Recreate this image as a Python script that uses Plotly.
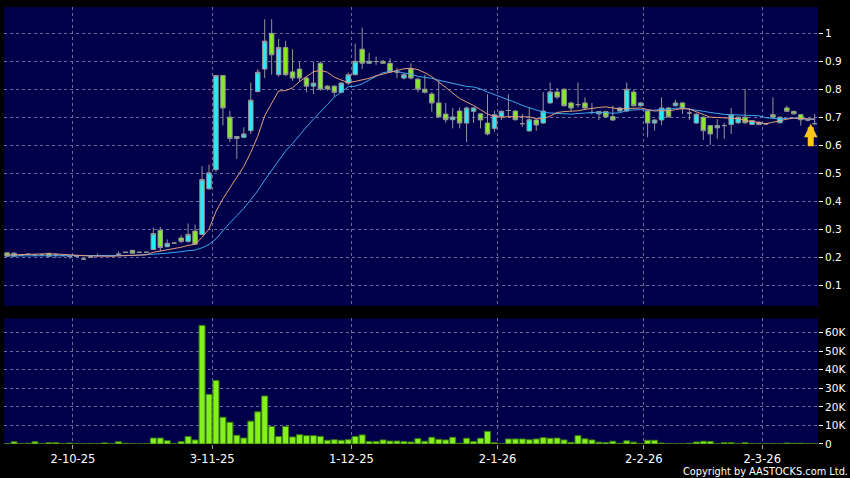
import pandas as pd
import plotly.graph_objects as go

# ── trading calendar (HK) ───────────────────────────────────────────────
HOLIDAYS = ['2025-10-01', '2025-10-07', '2025-10-29', '2025-12-25', '2025-12-26',
            '2026-01-01', '2026-02-17', '2026-02-18', '2026-02-19']
dates = [d for d in pd.bdate_range('2025-09-18', '2026-03-12')
         if d.strftime('%Y-%m-%d') not in HOLIDAYS]

TICK_DATES = ['2025-10-02', '2025-11-03', '2025-12-01',
              '2026-01-02', '2026-02-02', '2026-03-02']
TICK_TEXT = ['2-10-25', '3-11-25', '1-12-25', '2-1-26', '2-2-26', '2-3-26']

# ── daily prices ────────────────────────────────────────────────────────
opens = [.215, .203, .206, .210, .207, .208, .213, .208, .205, .202,
         .203, .193, .200, .205, .205, .205, .210, .217, .224, .217,
         .217, .227, .296, .237, .250, .268, .256, .293, .281, .444,
         .512, .849, .700, .624, .628, .652, .792, .872, 1.000, .852,
         .949, .862, .872, .840, .811, .893, .811, .811, .789, .822,
         .852, .943, .893, .899, .900, .893, .861, .840, .872, .836,
         .800, .783, .751, .711, .691, .722, .679, .721, .712, .679,
         .660, .703, .724, .722, .677, .651, .690, .679, .751, .790,
         .800, .751, .745, .751, .717, .712, .720, .702, .722, .722,
         .790, .741, .722, .679, .690, .733, .741, .751, .715, .679,
         .700, .670, .662, .670, .674, .680, .700, .674, .674, .676,
         .709, .680, .733, .721, .709, .690, .677]
highs = [.216, .217, .208, .212, .209, .209, .216, .214, .207, .204,
         .204, .195, .202, .213, .206, .206, .220, .218, .225, .218,
         .219, .305, .308, .263, .252, .278, .320, .316, .525, .531,
         .850, .850, .723, .633, .664, .824, .872, 1.050, 1.050, .980,
         .973, .943, .899, .845, .899, .899, .815, .815, .826, .860,
         .963, 1.020, .930, .917, .905, .911, .877, .858, .893, .840,
         .852, .790, .835, .751, .733, .735, .738, .737, .715, .782,
         .723, .724, .782, .725, .712, .735, .693, .790, .824, .805,
         .803, .755, .824, .771, .751, .722, .723, .741, .736, .824,
         .800, .754, .726, .693, .771, .736, .762, .754, .733, .714,
         .703, .672, .693, .680, .733, .703, .800, .690, .684, .678,
         .771, .703, .741, .723, .711, .694, .712]
lows = [.200, .200, .204, .208, .205, .206, .200, .196, .204, .193,
        .202, .192, .199, .204, .204, .204, .206, .216, .213, .216,
        .215, .225, .219, .235, .248, .249, .251, .243, .278, .440,
        .505, .670, .611, .551, .625, .640, .788, .840, .852, .845,
        .848, .830, .828, .789, .783, .795, .795, .773, .785, .815,
        .850, .872, .890, .887, .890, .858, .840, .835, .835, .789,
        .785, .720, .698, .680, .660, .660, .611, .679, .660, .635,
        .648, .690, .700, .688, .665, .648, .651, .676, .748, .765,
        .738, .722, .735, .730, .710, .690, .698, .686, .720, .718,
        .738, .738, .628, .652, .672, .698, .738, .711, .690, .676,
        .619, .601, .623, .623, .640, .676, .676, .672, .672, .674,
        .698, .678, .719, .709, .670, .686, .673]
closes = [.203, .214, .206, .210, .207, .208, .203, .208, .205, .202,
          .203, .193, .200, .205, .205, .205, .210, .217, .214, .217,
          .217, .284, .234, .249, .250, .256, .281, .246, .477, .501,
          .849, .733, .624, .631, .640, .761, .861, .972, .923, .949,
          .852, .840, .840, .811, .822, .800, .801, .789, .822, .852,
          .900, .893, .900, .899, .893, .862, .861, .852, .840, .800,
          .789, .751, .701, .691, .701, .679, .733, .733, .690, .640,
          .709, .721, .724, .691, .677, .691, .672, .722, .790, .772,
          .741, .733, .745, .733, .717, .720, .701, .690, .733, .800,
          .741, .751, .679, .690, .733, .701, .751, .730, .715, .711,
          .652, .640, .670, .670, .709, .700, .680, .688, .682, .676,
          .700, .700, .721, .712, .691, .690, .677]

# moving averages as drawn (10-day orange, 20-day blue)
ma10 = [.207, .208, .209, .210, .211, .212, .212, .211, .209, .207,
        .207, .205, .204, .203, .203, .203, .204, .205, .205, .207,
        .208, .217, .221, .225, .230, .235, .242, .245, .271, .300,
        .363, .408, .447, .485, .524, .574, .632, .705, .750, .794,
        .795, .805, .827, .845, .863, .867, .861, .843, .833, .823,
        .828, .833, .839, .848, .855, .861, .867, .873, .875, .870,
        .859, .845, .825, .804, .785, .767, .754, .742, .727, .711,
        .703, .700, .702, .702, .700, .701, .695, .694, .704, .717,
        .720, .721, .723, .728, .732, .735, .737, .734, .729, .731,
        .731, .733, .727, .722, .724, .722, .727, .731, .729, .720,
        .711, .700, .699, .697, .695, .695, .688, .684, .680, .677,
        .682, .688, .693, .697, .695, .694, .694]
ma20 = [.204, .204, .204, .205, .205, .205, .205, .205, .205, .205,
        .205, .204, .204, .204, .204, .204, .205, .205, .206, .207,
        .208, .211, .212, .214, .216, .219, .223, .225, .233, .245,
        .265, .295, .322, .348, .374, .405, .437, .475, .510, .547,
        .579, .606, .637, .665, .693, .718, .745, .772, .791, .809,
        .811, .819, .833, .846, .859, .864, .864, .858, .854, .846,
        .843, .839, .832, .826, .820, .814, .810, .808, .801, .790,
        .781, .772, .763, .753, .742, .734, .724, .718, .715, .714,
        .711, .711, .713, .715, .716, .718, .716, .714, .716, .724,
        .726, .727, .725, .725, .728, .728, .732, .733, .729, .726,
        .721, .717, .713, .710, .709, .708, .707, .707, .705, .698,
        .696, .694, .696, .697, .695, .694, .691]

# daily volume, shares
volume = [200, 1200, 100, 400, 1200, 100, 700, 700, 100, 500,
          100, 100, 200, 100, 600, 200, 1200, 400, 100, 50,
          100, 3200, 3200, 1800, 200, 1300, 4000, 2200, 63800, 26700,
          34200, 14400, 11700, 4700, 3200, 12300, 17300, 25800, 9400, 4000,
          9400, 3800, 5000, 4500, 4500, 4100, 2000, 2300, 2000, 2300,
          4100, 4900, 1400, 1400, 2200, 1600, 1600, 1400, 1100, 2900,
          1500, 3600, 2500, 2200, 3600, 400, 3100, 1400, 3100, 6800,
          700, 100, 2700, 2700, 2700, 2300, 2700, 3400, 3100, 3200,
          2200, 900, 4500, 2800, 2200, 1000, 800, 1500, 400, 1700,
          1000, 200, 2000, 2000, 500, 100, 100, 100, 400, 1100,
          1500, 1400, 100, 700, 700, 100, 700, 100, 200, 100,
          200, 100, 500, 400, 400, 200, 200]

PRICE_TICKS = [0.1, 0.2, 0.3, 0.4, 0.5, 0.6, 0.7, 0.8, 0.9, 1.0]
PRICE_TEXT = ['0.1', '0.2', '0.3', '0.4', '0.5', '0.6', '0.7', '0.8', '0.9', '1']
VOL_TICKS = [0, 10000, 20000, 30000, 40000, 50000, 60000]
VOL_TEXT = ['0', '10K', '20K', '30K', '40K', '50K', '60K']

BG = '#00004A'
GRID = '#6C6C9C'
UP = '#26ECFA'
DN = '#86EA26'
EDGE = '#959595'
VOL_CLR = '#84F01E'

x = list(range(len(dates)))
tick_x = [dates.index(pd.Timestamp(d)) + 0.45 for d in TICK_DATES]
x_range = [-0.445, 116.47]

fig = go.Figure()
fig.add_trace(go.Candlestick(
    x=x, open=opens, high=highs, low=lows, close=closes,
    increasing=dict(line=dict(color=EDGE, width=1), fillcolor=UP),
    decreasing=dict(line=dict(color=EDGE, width=1), fillcolor=DN),
    whiskerwidth=0, xaxis='x', yaxis='y', showlegend=False, hoverinfo='skip'))
fig.add_trace(go.Scatter(x=x, y=ma20, mode='lines', xaxis='x', yaxis='y',
                         line=dict(color='#3DA6F0', width=1), hoverinfo='skip'))
fig.add_trace(go.Scatter(x=x, y=ma10, mode='lines', xaxis='x', yaxis='y',
                         line=dict(color='#E89C7C', width=1), hoverinfo='skip'))
fig.add_trace(go.Bar(x=x, y=volume, xaxis='x2', yaxis='y2',
                     marker=dict(color=VOL_CLR, line=dict(color='#3B7D12', width=1)),
                     hoverinfo='skip'))

# marker arrow under the latest session
fig.add_annotation(x=x[-1], y=closes[-1], xref='x', yref='y', text='',
                   showarrow=True, ax=0, ay=24, arrowhead=2, arrowsize=0.45,
                   arrowwidth=6, arrowcolor='#FFC61A', xshift=-4)

fig.add_annotation(x=1.039, y=-0.062, xref='paper', yref='paper',
                   xanchor='right', yanchor='middle', showarrow=False,
                   text='Copyright by AASTOCKS.com Ltd.',
                   font=dict(size=9.8, color='white'))

xgrid = dict(range=x_range, tickmode='array', tickvals=tick_x, showgrid=True,
             gridcolor=GRID, griddash='3px,3px', gridwidth=1, zeroline=False,
             showline=False)
ygrid = dict(side='right', showgrid=True, gridcolor=GRID, griddash='3px,3px',
             gridwidth=1, zeroline=False, showline=False, ticks='outside',
             ticklen=4, tickcolor='white', tickmode='array',
             tickfont=dict(size=10.5, color='white'))

fig.update_layout(
    width=850, height=478, margin=dict(l=4, r=32, t=7, b=34),
    paper_bgcolor='black', plot_bgcolor=BG, showlegend=False,
    font=dict(family='DejaVu Sans', size=10.5, color='white'),
    boxgap=0.08, bargap=0.14,
    xaxis=dict(domain=[0, 1], anchor='y', showticklabels=False,
               rangeslider=dict(visible=False), **xgrid),
    xaxis2=dict(domain=[0, 1], anchor='y2', matches='x', ticktext=TICK_TEXT,
                ticks='outside', ticklen=4, tickcolor='#AAAAAA',
                tickfont=dict(size=11.5, color='white'), **xgrid),
    yaxis=dict(domain=[0.3158, 1], anchor='x', range=[0.025, 1.094],
               tickvals=PRICE_TICKS, ticktext=PRICE_TEXT, **ygrid),
    yaxis2=dict(domain=[0, 0.2876], anchor='x2', range=[0, 67600],
                tickvals=VOL_TICKS, ticktext=VOL_TEXT, **ygrid),
)

# page has the default 8px body margin; drop it so the figure sits at 0,0
fig.write_html('out.html', config={'displayModeBar': False},
               post_script="document.body.style.margin='0';"
                           "document.body.style.background='black';")
